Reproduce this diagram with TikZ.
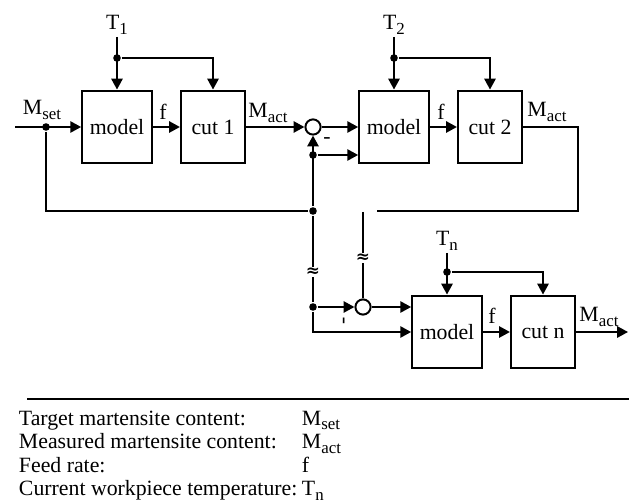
\documentclass[tikz,border=0pt]{standalone}
\usepackage{fontspec}
\setmainfont{Liberation Serif}
\newfontfamily\brkfont{DejaVu Serif}
\usetikzlibrary{arrows.meta, positioning}
\newcommand{\lowtxt}[1]{\raisebox{-0.22em}{\fontsize{12}{12}\selectfont #1}}

\begin{document}
\begin{tikzpicture}[
    x=0.025cm, y=-0.025cm, line width=1.4pt,
    every node/.style={font=\fontsize{15.5}{17}\selectfont},
    block/.style={draw, line width=1.5pt, minimum height=1.82cm, inner sep=0pt},
    modelbox/.style={block, minimum width=1.74cm},
    cutbox/.style={block, minimum width=1.6cm},
    sumpt/.style={draw, circle, line width=1.4pt, fill=white,
                  minimum size=0.38cm, inner sep=0pt},
    jdot/.style={circle, fill, minimum size=0.19cm, inner sep=0pt},
    lbl/.style={inner sep=1pt},
    arr/.style={-{Triangle[length=0.27cm, width=0.28cm]}},
    brk/.style={fill=white, inner sep=0.5pt, font=\brkfont\fontsize{12}{12}\selectfont\bfseries},
]
    \useasboundingbox (0,0) rectangle (629,503);

    % Stages 1 and 2
    \node[modelbox] (model1) at (117,127) {model};
    \node[cutbox] (cut1) at (213,127) {cut 1};
    \node[sumpt] (sum1) at (313,127) {};
    \node[modelbox] (model2) at (394,127) {model};
    \node[cutbox] (cut2) at (490,127) {cut 2};

    % Stage n
    \node[sumpt] (sumn) at (363,307) {};
    \node[modelbox] (modeln) at (447,332) {model};
    \node[cutbox] (cutn) at (543,332) {cut n};

    % Temperatures
    \node[lbl, anchor=south] (t1) at (117,37) {T\lowtxt{1}};
    \node[lbl, anchor=south] (t2) at (394,37) {T\lowtxt{2}};
    \node[lbl, anchor=south] (tn) at (447,253) {T\lowtxt{n}};
    \node[jdot] (t1d) at (117,58) {};
    \node[jdot] (t2d) at (394,58) {};
    \node[jdot] (tnd) at (447,272) {};
    \draw[arr] (t1.south) -- (model1.north);
    \draw[arr] (t1d) -| (cut1.north);
    \draw[arr] (t2.south) -- (model2.north);
    \draw[arr] (t2d) -| (cut2.north);
    \draw[arr] (tn.south) -- (modeln.north);
    \draw[arr] (tnd) -| (cutn.north);

    % Junctions and free ends
    \node[jdot] (mset) at (46,127) {};
    \node[jdot] (fb1) at (313,211) {};
    \node[jdot] (fb2) at (313,155) {};
    \node[jdot] (fb3) at (313,307) {};
    \coordinate (in) at (15,127);
    \coordinate (out) at (628,332);
    \coordinate (ret) at (578,211);
    \coordinate (retend) at (377,211);
    \coordinate (gaptop) at (363,212);

    % Signal path
    \draw[arr] (in) -- (model1);
    \draw[arr] (model1) -- (cut1);
    \draw[arr] (cut1) -- (sum1);
    \draw[arr] (sum1) -- (model2);
    \draw[arr] (model2) -- (cut2);
    \draw (cut2) -| (ret) -- (retend);
    \draw (mset) |- (fb1);
    \draw[arr] (fb1) -- (sum1);
    \draw[arr] (fb2) -- (fb2 -| model2.west);
    \draw (fb1) -- (fb3);
    \node[brk] (brk1) at (313,272) {≈};
    \draw (gaptop) -- (sumn);
    \node[brk] (brk2) at (363,258) {≈};
    \draw[arr] (fb3) -- (sumn);
    \draw[arr] (sumn) -- (sumn -| modeln.west);
    \draw[arr] (fb3) |- (modeln);
    \draw[arr] (modeln) -- (cutn);
    \draw[arr] (cutn) -- (out);

    % Signs
    \node (minus1) at (327,141) {-};
    \node[rotate=90] (minus2) at (346,321) {-};

    % Signal labels
    \node[anchor=base] (lmset) at (42,115) {M\lowtxt{set}};
    \node[anchor=base] (lf1) at (163,120) {f};
    \node[anchor=base] (lact1) at (268,118) {M\lowtxt{act}};
    \node[anchor=base] (lf2) at (441,120) {f};
    \node[anchor=base] (lact2) at (547,117) {M\lowtxt{act}};
    \node[anchor=base] (lfn) at (492,324) {f};
    \node[anchor=base] (lactn) at (599,322) {M\lowtxt{act}};

    % Legend
    \coordinate (rulel) at (27,399);
    \coordinate (ruler) at (629,399);
    \draw (rulel) -- (ruler);
    \foreach \txt/\sym [count=\i from 0] in {Target martensite content:/M\lowtxt{set},
        Measured martensite content:/M\lowtxt{act}, Feed rate:/f,
        Current workpiece temperature:/T\lowtxt{n}} {
        \node[anchor=base west, inner sep=0pt] (leg\i) at (18,425+\i*23.6) {\txt};
        \node[anchor=base west, inner sep=0pt] (sym\i) at (301,425+\i*23.6) {\sym};
    }
\end{tikzpicture}
\end{document}
